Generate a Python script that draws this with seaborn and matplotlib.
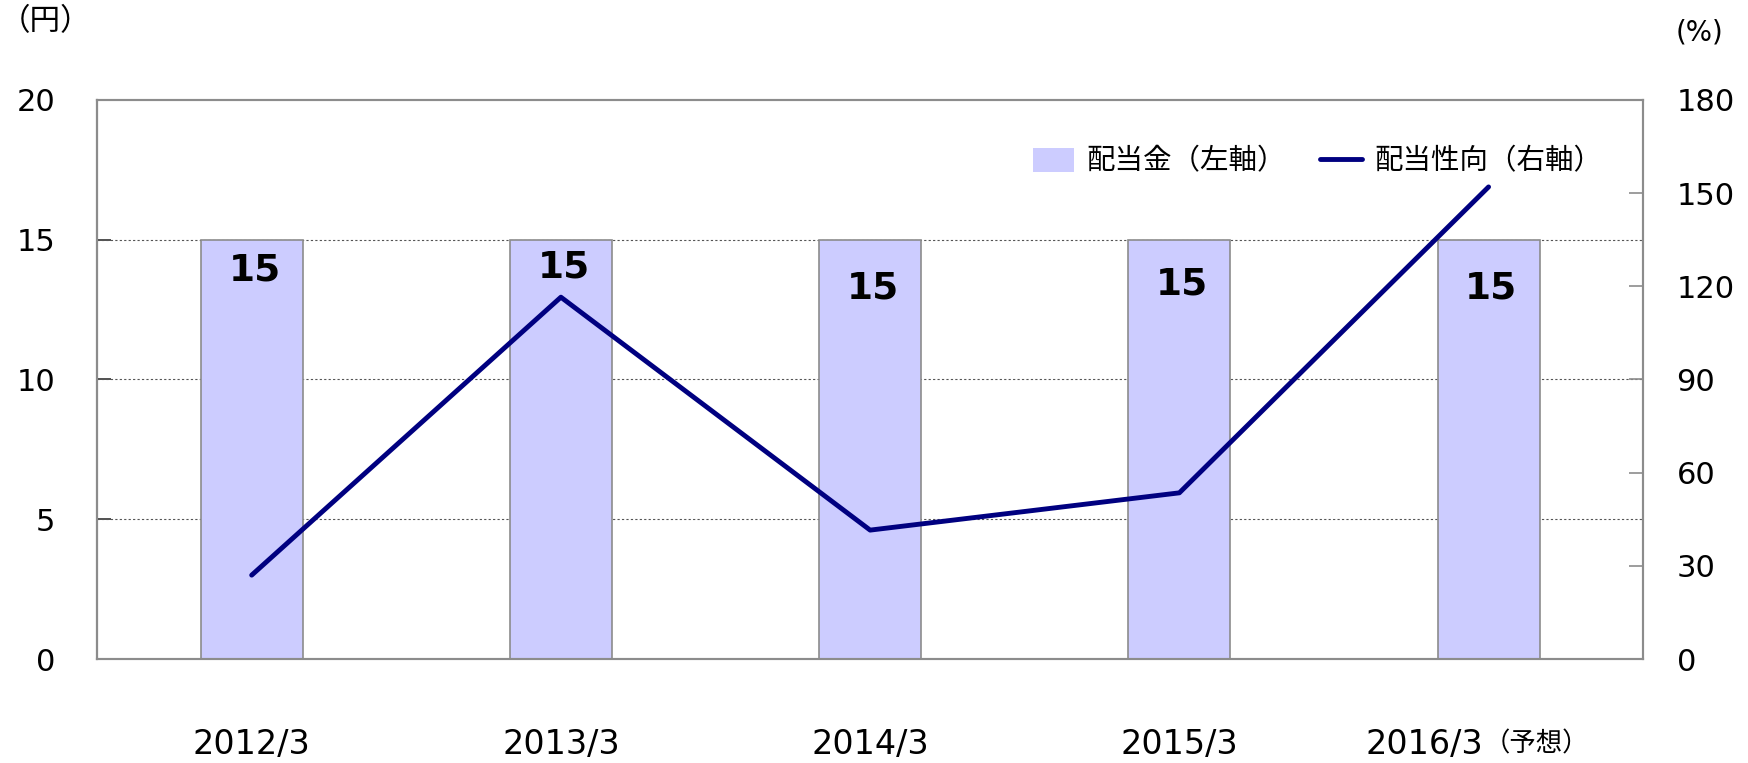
import numpy as np
import seaborn as sns
import matplotlib.pyplot as plt
import matplotlib.transforms as mtransforms
from matplotlib.patches import Patch
from matplotlib.lines import Line2D

years = ['2012/3', '2013/3', '2014/3', '2015/3', '2016/3']
dividend = [15, 15, 15, 15, 15]          # 配当金 (円)
payout = [27, 116.5, 41.5, 53.5, 152]    # 配当性向 (%)
left_ticks = [0, 5, 10, 15, 20]
right_ticks = [0, 30, 60, 90, 120, 150, 180]
label_drop = [22, 20, 35, 32, 35]        # bar label offset below bar top, pt

sns.set_style('white')
plt.rcParams['font.family'] = ['DejaVu Sans', 'Noto Sans CJK JP']
plt.rcParams['text.color'] = 'black'
plt.rcParams['xtick.labelcolor'] = 'black'
plt.rcParams['ytick.labelcolor'] = 'black'

bar_color = '#CCCCFF'
line_color = '#000080'

fig = plt.figure(figsize=(17.49, 7.63), dpi=100)
ax = fig.add_axes([0.0555, 0.1363, 0.8840, 0.7327])

sns.barplot(x=years, y=dividend, color=bar_color, saturation=1, width=0.33,
            edgecolor='#8c8c8c', linewidth=1.2, ax=ax, zorder=2)
ax.set_xlim(-0.5, 4.5)
ax.set_ylim(0, 20)
ax.set_yticks(left_ticks)
ax.set_xlabel('')
ax.set_ylabel('')
for v in left_ticks[1:-1]:
    ax.axhline(v, color='#555555', linestyle=(0, (2, 2)), linewidth=0.8, zorder=1)

for i, v in enumerate(dividend):
    ax.annotate(str(v), xy=(i, v), xytext=(2, -label_drop[i]),
                textcoords='offset points', ha='center', va='center',
                fontsize=27, fontweight='bold', color='black', zorder=5)

ax2 = ax.twinx()
sns.lineplot(x=np.arange(len(years)), y=payout, color=line_color,
             linewidth=3.5, ax=ax2, solid_capstyle='round', zorder=4)
ax2.set_ylim(0, 180)
ax2.set_yticks(right_ticks)
ax2.set_xlim(-0.5, 4.5)

for a in (ax, ax2):
    for s in a.spines.values():
        s.set_color('#8c8c8c')
        s.set_linewidth(1.5)
ax.spines['left'].set_color('#333333')

ax.tick_params(axis='y', direction='in', length=10, width=1.2, color='#333333',
               labelsize=22, pad=30)
ax.tick_params(axis='x', length=0, labelsize=24, pad=50)
ax2.tick_params(axis='y', direction='in', length=10, width=1.2, color='#8c8c8c',
                labelsize=22, pad=24)

ax.set_xticks(range(len(years)))
ax.set_xticklabels(years)
last = ax.get_xticklabels()[-1]
last.set_transform(last.get_transform() +
                   mtransforms.ScaledTranslation(-46 / 72, 0, fig.dpi_scale_trans))
ax.annotate('（予想）', xy=(1, 0.5), xycoords=last, ha='left', va='center',
            fontsize=19, color='black')

handles = [Patch(facecolor=bar_color, edgecolor='none', label='配当金（左軸）'),
           Line2D([], [], color=line_color, linewidth=3.5, label='配当性向（右軸）')]
ax2.legend(handles=handles, ncol=2, loc='upper right', frameon=False,
           bbox_to_anchor=(0.981, 0.935), borderaxespad=0, fontsize=20.5,
           handlelength=1.45, handleheight=0.9, handletextpad=0.45, columnspacing=1.2)

fig.text(0.0, 0.972, '（円）', fontsize=22, ha='left', va='center')
fig.text(0.958, 0.958, '(%)', fontsize=20, ha='left', va='center')

fig.savefig('out.png', dpi=100)
